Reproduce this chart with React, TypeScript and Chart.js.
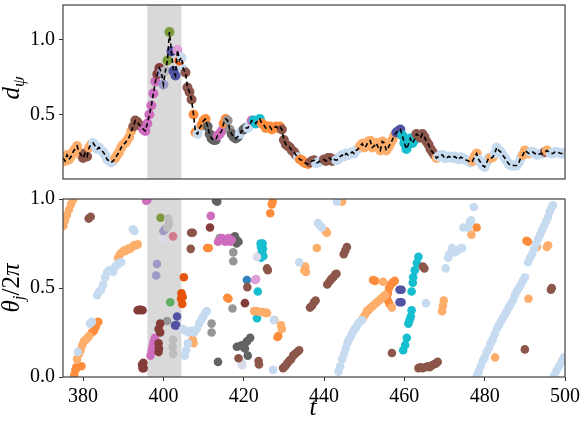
import { useEffect, useRef } from "react";
import { Chart, registerables } from "chart.js";

Chart.register(...registerables);

// ---- axes ----
const T_MIN = 375;
const T_MAX = 500;
const T_TICKS = [380, 400, 420, 440, 460, 480, 500];
const D_MIN = 0.07;
const D_MAX = 1.23;
const D_TICKS = [0.5, 1.0];
const THETA_TICKS = [0.0, 0.5, 1.0];
const SHADE_SPAN = [396.0, 404.5];

// ---- order parameter distance d_psi, sampled every 0.5 from t = 375 ----
const D_T0 = 375;
const D_DT = 0.5;
const D_PSI = [
  0.21, 0.19, 0.23, 0.2, 0.22, 0.25, 0.27, 0.29, 0.25, 0.23,
  0.21, 0.24, 0.22, 0.28, 0.3, 0.31, 0.29, 0.27, 0.28, 0.26,
  0.25, 0.23, 0.2, 0.19, 0.18, 0.19, 0.21, 0.23, 0.25, 0.28,
  0.3, 0.31, 0.33, 0.35, 0.39, 0.42, 0.46, 0.45, 0.43, 0.42,
  0.4, 0.39, 0.44, 0.5, 0.56, 0.64, 0.72, 0.77, 0.81, 0.78,
  0.7, 0.79, 0.86, 1.05, 0.92, 0.79, 0.76, 0.93, 0.86, 0.88,
  0.8, 0.78, 0.68, 0.65, 0.6, 0.5, 0.38, 0.37, 0.41, 0.43,
  0.46, 0.47, 0.42, 0.37, 0.34, 0.33, 0.33, 0.36, 0.37, 0.39,
  0.44, 0.47, 0.46, 0.4, 0.37, 0.35, 0.34, 0.35, 0.37, 0.39,
  0.4, 0.41, 0.41, 0.43, 0.46, 0.46, 0.44, 0.46, 0.47, 0.44,
  0.43, 0.41, 0.42, 0.42, 0.4, 0.41, 0.42, 0.41, 0.42, 0.4,
  0.33, 0.3, 0.29, 0.28, 0.26, 0.25, 0.23, 0.215, 0.2, 0.195,
  0.18, 0.175, 0.17, 0.18, 0.19, 0.195, 0.175, 0.18, 0.19, 0.195,
  0.2, 0.19, 0.21, 0.21, 0.19, 0.2, 0.195, 0.2, 0.22, 0.23,
  0.22, 0.24, 0.23, 0.24, 0.25, 0.24, 0.26, 0.27, 0.29, 0.305,
  0.28, 0.29, 0.32, 0.325, 0.28, 0.29, 0.31, 0.28, 0.26, 0.32,
  0.31, 0.26, 0.28, 0.305, 0.33, 0.36, 0.38, 0.39, 0.4, 0.36,
  0.31, 0.27, 0.3, 0.34, 0.31, 0.33, 0.37, 0.36, 0.345, 0.37,
  0.35, 0.32, 0.3, 0.27, 0.25, 0.23, 0.21, 0.22, 0.23, 0.23,
  0.21, 0.21, 0.22, 0.215, 0.21, 0.22, 0.21, 0.2, 0.215, 0.21,
  0.2, 0.195, 0.19, 0.18, 0.19, 0.22, 0.24, 0.2, 0.18, 0.16,
  0.15, 0.18, 0.21, 0.21, 0.215, 0.24, 0.28, 0.26, 0.25, 0.23,
  0.21, 0.19, 0.17, 0.16, 0.16, 0.16, 0.16, 0.18, 0.21, 0.23,
  0.26, 0.25, 0.24, 0.25, 0.25, 0.24, 0.23, 0.235, 0.24, 0.24,
  0.25, 0.26, 0.25, 0.24, 0.24, 0.25, 0.25, 0.245, 0.24, 0.24,
  0.24,
];

// dominant cluster along the d_psi trace: [from, to, cluster]
const D_CLUSTERS: [number, number, string][] = [
  [375, 380, "lo"], [380, 381.5, "br"], [381.5, 382.5, "lo"], [388, 392.5, "lo"],
  [392.5, 395, "br"], [395, 398.5, "mg"], [398.5, 399.5, "mr"], [399.5, 400.5, "lv"],
  [400.5, 401, "lg"], [401, 402, "go"], [402, 403.2, "pu"], [403.2, 403.8, "pk"],
  [403.8, 404.5, "do"], [405.5, 407.5, "br"], [407.5, 408.5, "or"], [409.5, 411, "or"],
  [411, 413.5, "dg"], [413.5, 415, "mg"], [415, 416, "or"], [416, 417, "gy"],
  [417, 419, "dg"], [420, 421, "dg"], [422, 422.5, "mg"], [422.5, 424.5, "cy"],
  [424.5, 429.5, "or"], [429.5, 433.5, "br"], [434, 436.5, "or"], [436.5, 438, "br"],
  [440, 443, "br"], [449, 458, "lo"], [458, 459.5, "pu"], [459.5, 463, "cy"],
  [463, 468, "br"], [468, 468.5, "lo"], [477, 478.5, "lo"], [481.5, 482.5, "lo"],
  [489.5, 491.5, "lo"], [495, 495.5, "br"], [495.5, 496.5, "lo"],
];

// ---- oscillator phases theta_j / 2pi, grouped by cluster: [t, phase] ----
const PH_LB: [number, number][] = [
  [378.7, 0.14], [381.7, 0.3], [382.2, 0.31],
  [383.5, 0.46], [384, 0.48], [384.5, 0.49], [385, 0.52], [385.5, 0.56], [386, 0.59],
  [386.5, 0.6], [387, 0.6], [387.5, 0.59], [388, 0.62], [388.5, 0.63], [389, 0.64], [389.5, 0.645],
  [392.4, 0.83], [392.8, 0.82],
  [404.9, 0.27], [405.5, 0.26], [406.2, 0.25], [406.9, 0.26], [407.6, 0.25], [408.3, 0.27],
  [408.9, 0.3], [409.4, 0.32], [409.9, 0.34], [410.4, 0.36], [410.8, 0.37],
  [405.3, 0.12], [405.7, 0.15], [406.1, 0.19],
  [427.3, 0.04], [427.5, 0.32], [433.8, 0.645], [438.5, 0.865], [439, 0.85], [439.5, 0.84], [443.2, 0.985],
  [443.6, 0.03], [444, 0.06], [444.5, 0.1], [445, 0.13], [445.4, 0.16], [445.8, 0.19], [446.2, 0.21],
  [446.7, 0.23], [447.1, 0.25], [447.6, 0.27], [448, 0.28], [448.5, 0.3], [449, 0.31], [449.5, 0.32],
  [465.4, 0.415], [470.3, 0.61], [470.9, 0.67], [471.2, 0.69], [471.9, 0.725], [472.5, 0.7],
  [473.1, 0.71], [473.8, 0.72], [474.4, 0.725], [474.7, 0.84], [475.8, 0.84], [476.3, 0.87],
  [476.6, 0.88], [477.3, 0.955],
  [478.1, 0.01], [478.5, 0.03], [479, 0.06], [479.5, 0.09], [480, 0.11], [480.5, 0.14], [481, 0.16],
  [481.5, 0.19], [482, 0.21], [482.5, 0.24], [483, 0.27], [483.5, 0.29], [484, 0.31], [484.5, 0.33],
  [485, 0.35], [485.5, 0.37], [486, 0.39], [486.5, 0.41], [487, 0.43], [487.5, 0.46], [488, 0.48],
  [488.5, 0.5], [489, 0.52], [489.5, 0.54], [490, 0.56],
  [490.8, 0.645], [491.3, 0.67], [491.8, 0.69], [492.3, 0.72], [492.8, 0.75], [493.3, 0.775],
  [493.8, 0.8], [494.3, 0.825], [494.8, 0.85], [495.3, 0.875], [495.8, 0.9], [496.2, 0.93],
  [496.6, 0.95], [497, 0.965],
  [497.3, 0.01], [497.9, 0.035], [498.5, 0.06], [499.1, 0.085], [499.7, 0.11],
];
const PH_LO: [number, number][] = [
  [375.1, 0.85], [375.5, 0.88], [376, 0.91], [376.5, 0.94], [377, 0.97], [377.5, 0.995],
  [378.5, 0.1], [379, 0.13], [379.4, 0.15], [379.8, 0.18], [380.2, 0.2], [380.7, 0.21], [381.1, 0.22], [381.5, 0.23],
  [388.7, 0.67], [389.2, 0.69], [389.7, 0.7], [390.2, 0.71], [390.7, 0.71], [391.2, 0.72], [391.7, 0.72],
  [392.2, 0.73], [392.7, 0.74], [393.2, 0.74], [393.6, 0.745],
  [407.3, 0.21], [407.5, 0.19],
  [422.6, 0.37], [423.3, 0.37], [424, 0.365], [424.7, 0.365], [425.4, 0.36], [425.8, 0.36],
  [429.3, 0.29], [429.5, 0.27], [435.1, 0.6], [435.3, 0.62], [435.5, 0.59],
  [438.2, 0.725], [440.4, 0.82], [440.7, 0.81], [444.5, 0.985],
  [449.7, 0.33], [450.2, 0.35], [450.7, 0.37], [451.2, 0.38], [451.7, 0.39], [452.2, 0.4], [452.7, 0.41],
  [453.2, 0.42], [453.7, 0.43], [454.2, 0.44], [454.7, 0.45], [455.2, 0.46],
  [454.7, 0.535], [456.9, 0.39],
  [469.4, 0.37], [469.6, 0.4], [469.8, 0.43],
  [476.7, 0.8], [482.6, 0.11], [490.9, 0.44], [493, 0.73], [495.5, 0.73], [495.8, 0.74],
];
const PH_OR: [number, number][] = [
  [377.8, 0.01], [378.1, 0.04], [378.3, 0.055], [379.6, 0.06],
  [382.2, 0.25], [382.7, 0.26], [383.1, 0.28], [383.4, 0.3], [383.8, 0.31],
  [410.9, 0.725], [411.3, 0.725], [415.9, 0.445], [416.2, 0.44],
  [426.6, 0.92], [427, 0.97], [427.2, 0.985], [428.4, 0.225], [428.6, 0.23], [427.6, 0.32],
  [452.2, 0.545], [452.7, 0.54],
  [455.6, 0.45], [455.9, 0.47], [456.2, 0.5], [456.6, 0.52], [457.1, 0.53], [457.6, 0.54],
  [455.9, 0.43], [456.3, 0.41],
  [478, 0.84], [490.4, 0.765], [490.8, 0.76],
];
const PH_DO: [number, number][] = [
  [405.1, 0.56], [404.5, 0.47], [404.4, 0.44], [404.7, 0.41], [404.8, 0.45],
];
const PH_BR: [number, number][] = [
  [381.4, 0.89], [381.9, 0.9],
  [406.9, 0.81], [407.3, 0.81], [406.8, 0.72],
  [420.9, 0.505], [425.8, 0.61], [426, 0.6], [418.7, 0.105], [423.7, 0.09], [423.8, 0.07],
  [429.8, 0.05], [430.3, 0.06], [430.8, 0.075], [431.3, 0.09], [431.8, 0.1], [432.3, 0.12],
  [432.8, 0.13], [433.3, 0.14], [433.8, 0.15],
  [436.5, 0.39], [437, 0.4], [437.5, 0.42], [437.9, 0.43],
  [440.8, 0.52], [441.3, 0.535], [441.8, 0.55], [442.3, 0.56], [442.8, 0.575], [443.1, 0.58],
  [444.9, 0.69], [445.3, 0.71], [445.7, 0.73],
  [456.9, 0.135], [464.6, 0.62], [465, 0.61],
  [463.5, 0.05], [464, 0.055], [464.5, 0.05], [465.2, 0.055], [465.8, 0.06], [466.3, 0.055],
  [466.8, 0.065], [467.3, 0.07], [467.8, 0.075], [468.3, 0.085],
  [490, 0.155], [496.5, 0.49], [496.7, 0.5],
];
const PH_MR: [number, number][] = [
  [393.6, 0.375], [394, 0.377], [394.4, 0.377], [394.8, 0.375],
  [399.2, 0.3], [398.8, 0.27], [399.2, 0.25], [398.8, 0.19], [398.9, 0.16], [398.8, 0.14],
  [394.7, 0.07], [395, 0.08], [395.1, 0.05], [394.8, 0.05],
  [411.6, 0.84], [420.3, 0.415],
];
const PH_MG: [number, number][] = [
  [395.7, 0.99], [396, 0.995],
  [396.8, 0.12], [397, 0.14], [397.2, 0.16], [397.4, 0.18], [397.6, 0.2], [397.9, 0.22],
  [411.8, 0.905],
  [413.6, 0.76], [414.2, 0.77], [414.6, 0.78], [415, 0.77], [415.4, 0.76], [415.8, 0.77],
  [416.2, 0.78], [416.6, 0.76], [417, 0.77],
];
const PH_PK: [number, number][] = [[422.8, 0.545], [423.1, 0.55]];
const PH_RS: [number, number][] = [[402.4, 0.79]];
const PH_LG: [number, number][] = [
  [401.2, 0.89], [401.4, 0.86], [401, 0.84], [402.4, 0.21], [402.3, 0.17], [402.4, 0.13],
];
const PH_GY: [number, number][] = [
  [400.9, 0.315], [412, 0.3], [412, 0.25], [414, 0.78], [417.4, 0.7], [417.4, 0.65], [417.2, 0.385],
];
const PH_DG: [number, number][] = [
  [413.1, 0.99], [413.4, 0.985], [413.6, 0.085],
  [417.3, 0.78], [417.8, 0.79], [418.3, 0.77], [418.7, 0.76], [418.2, 0.75],
  [418.3, 0.17], [419.2, 0.175], [419.8, 0.18], [420.3, 0.16], [420.8, 0.2], [421.6, 0.22], [421, 0.12],
];
const PH_LV: [number, number][] = [[400, 0.82], [400.4, 0.83], [398.4, 0.635], [398.2, 0.57]];
const PH_LL: [number, number][] = [[399.8, 0.77], [419.5, 0.08], [419.6, 0.065], [423.3, 0.675]];
const PH_PU: [number, number][] = [
  [403.4, 0.34], [402.9, 0.29], [403.2, 0.29],
  [458.8, 0.49], [459.3, 0.49], [458.8, 0.42], [459.3, 0.42],
];
const PH_CY: [number, number][] = [
  [424.2, 0.75], [424.7, 0.75], [424.3, 0.73], [424.8, 0.72], [424.5, 0.7], [424.9, 0.68], [424.3, 0.67],
  [423.5, 0.48], [423.3, 0.33],
  [461.8, 0.48], [462.1, 0.53], [462.2, 0.56], [462.6, 0.6], [463.1, 0.64], [463.5, 0.675],
  [461.8, 0.375], [461.6, 0.34], [461.3, 0.32], [461, 0.3], [460.6, 0.22], [460.2, 0.18], [459.7, 0.15],
];
const PH_GO: [number, number][] = [[399.3, 0.895]];
const PH_GN: [number, number][] = [[401.7, 0.42]];
const PH_BL: [number, number][] = [[420.8, 0.545]];

const COLORS: Record<string, string> = {
  lb: "#c6dbef", lo: "#fdae6b", or: "#fd8d3c", do: "#e6550d", br: "#8c564b",
  mr: "#843c39", mg: "#ce6dbd", pk: "#de9ed6", rs: "#d07c8a", lg: "#bdbdbd",
  gy: "#969696", dg: "#636363", lv: "#9e9ac8", ll: "#dadaeb", pu: "#5254a3",
  cy: "#17becf", go: "#7c9a3c", gn: "#5fae5f", bl: "#3182bd",
};

const PHASE_GROUPS: [string, [number, number][]][] = [
  ["lb", PH_LB], ["lo", PH_LO], ["or", PH_OR], ["br", PH_BR], ["mr", PH_MR],
  ["do", PH_DO], ["mg", PH_MG], ["pk", PH_PK], ["rs", PH_RS], ["lg", PH_LG],
  ["gy", PH_GY], ["dg", PH_DG], ["lv", PH_LV], ["ll", PH_LL], ["pu", PH_PU],
  ["cy", PH_CY], ["go", PH_GO], ["gn", PH_GN], ["bl", PH_BL],
];

const SERIF = '"Liberation Serif", "DejaVu Serif", serif';
const tickFont = { family: SERIF, size: 20 };

type Part = { s: string; italic?: boolean; size: number; dy?: number };

function drawMath(ctx: CanvasRenderingContext2D, parts: Part[], x: number, y: number, vertical: boolean) {
  ctx.save();
  ctx.translate(x, y);
  if (vertical) ctx.rotate(-Math.PI / 2);
  const fonts = parts.map((p) => `${p.italic ? "italic " : ""}${p.size}px ${SERIF}`);
  const widths = parts.map((p, i) => {
    ctx.font = fonts[i];
    return ctx.measureText(p.s).width;
  });
  let cx = -widths.reduce((a, b) => a + b, 0) / 2;
  ctx.fillStyle = "#000";
  ctx.textBaseline = "alphabetic";
  ctx.textAlign = "left";
  parts.forEach((p, i) => {
    ctx.font = fonts[i];
    ctx.fillText(p.s, cx, p.dy || 0);
    cx += widths[i];
  });
  ctx.restore();
}

const framePlugin = {
  id: "frame",
  afterDraw(chart: any) {
    const { ctx, chartArea: a } = chart;
    ctx.save();
    ctx.strokeStyle = "#404040";
    ctx.lineWidth = 1.2;
    ctx.strokeRect(a.left, a.top, a.right - a.left, a.bottom - a.top);
    ctx.restore();
  },
};

const shadePlugin = {
  id: "shade",
  beforeDatasetsDraw(chart: any) {
    const { ctx, chartArea: a, scales } = chart;
    const x0 = scales.x.getPixelForValue(SHADE_SPAN[0]);
    const x1 = scales.x.getPixelForValue(SHADE_SPAN[1]);
    ctx.save();
    ctx.fillStyle = "#d9d9d9";
    ctx.fillRect(x0, a.top, x1 - x0, a.bottom - a.top);
    ctx.restore();
  },
};

function clusterAt(t: number): string {
  for (const [a, b, c] of D_CLUSTERS) if (t >= a && t < b) return c;
  return "lb";
}

const CHART_W = 580;
const TOP_H = 186;
const BOT_TOP = 185;
const BOT_H = 241;

function yAxis(min: number, max: number, ticks: number[]) {
  return {
    type: "linear",
    min,
    max,
    afterBuildTicks: (s: any) => {
      s.ticks = ticks.map((v) => ({ value: v }));
    },
    afterFit: (s: any) => {
      s.width = 63;
      s.paddingTop = 0;
      s.paddingBottom = 0;
    },
    ticks: { font: tickFont, color: "#000", padding: 4, callback: (v: any) => Number(v).toFixed(1) },
    grid: { drawOnChartArea: false, tickLength: 4, color: "#333", lineWidth: 1 },
    border: { display: false },
  };
}

export default function App() {
  const topRef = useRef<HTMLCanvasElement>(null);
  const botRef = useRef<HTMLCanvasElement>(null);

  useEffect(() => {
    const trace = D_PSI.map((d, i) => ({ x: D_T0 + i * D_DT, y: d }));
    const traceColors = trace.map((p) => COLORS[clusterAt(p.x)]);

    const top = new Chart(topRef.current!, {
      type: "scatter",
      data: {
        datasets: [
          {
            data: trace,
            showLine: false,
            pointRadius: 5,
            pointBorderWidth: 0,
            pointBackgroundColor: traceColors,
            order: 2,
          },
          {
            data: trace,
            showLine: true,
            borderColor: "#000",
            borderWidth: 1.6,
            borderDash: [4.5, 3],
            pointRadius: 0,
            order: 1,
          },
        ],
      },
      options: {
        responsive: false,
        animation: false,
        events: [],
        layout: { padding: { left: 0, right: 15, top: 1, bottom: TOP_H - 179 } },
        scales: {
          x: { type: "linear", min: T_MIN, max: T_MAX, display: false },
          y: yAxis(D_MIN, D_MAX, D_TICKS) as any,
        },
        plugins: { legend: { display: false }, tooltip: { enabled: false } },
      },
      plugins: [
        shadePlugin,
        framePlugin,
        {
          id: "labels",
          afterDraw(chart: any) {
            drawMath(chart.ctx, [
              { s: "d", italic: true, size: 25 },
              { s: "ψ", italic: true, size: 17, dy: 5 },
            ], 19, 88, true);
          },
        },
      ],
    } as any);

    const bottom = new Chart(botRef.current!, {
      type: "scatter",
      data: {
        datasets: PHASE_GROUPS.map(([key, pts]) => ({
          data: pts.map(([t, th]) => ({ x: t, y: th })),
          pointRadius: 4.3,
          pointBorderWidth: 0,
          pointBackgroundColor: COLORS[key],
          clip: 0,
        })),
      },
      options: {
        responsive: false,
        animation: false,
        events: [],
        layout: { padding: { left: 0, right: 15, top: 14, bottom: 0 } },
        scales: {
          x: {
            type: "linear",
            min: T_MIN,
            max: T_MAX,
            afterBuildTicks: (s: any) => {
              s.ticks = T_TICKS.map((v) => ({ value: v }));
            },
            afterFit: (s: any) => {
              s.height = BOT_H - 192;
              s.paddingLeft = 0;
              s.paddingRight = 0;
            },
            ticks: { font: tickFont, color: "#000", padding: 4, maxRotation: 0, autoSkip: false, callback: (v: any) => String(v) },
            grid: { drawOnChartArea: false, tickLength: 4, color: "#333", lineWidth: 1 },
            border: { display: false },
          },
          y: yAxis(0, 1, THETA_TICKS) as any,
        },
        plugins: { legend: { display: false }, tooltip: { enabled: false } },
      },
      plugins: [
        shadePlugin,
        framePlugin,
        {
          id: "labels",
          afterDraw(chart: any) {
            drawMath(chart.ctx, [
              { s: "θ", italic: true, size: 25 },
              { s: "j", italic: true, size: 17, dy: 5 },
              { s: "/2", size: 25 },
              { s: "π", italic: true, size: 25 },
            ], 19, 103, true);
            drawMath(chart.ctx, [{ s: "t", italic: true, size: 25 }], 313, 230, false);
          },
        },
      ],
    } as any);

    return () => {
      top.destroy();
      bottom.destroy();
    };
  }, []);

  return (
    <div style={{ position: "absolute", left: 0, top: 0, width: CHART_W, height: 426, background: "#fff" }}>
      <canvas ref={topRef} width={CHART_W} height={TOP_H} style={{ position: "absolute", left: 0, top: 0 }} />
      <canvas ref={botRef} width={CHART_W} height={BOT_H} style={{ position: "absolute", left: 0, top: BOT_TOP }} />
    </div>
  );
}
